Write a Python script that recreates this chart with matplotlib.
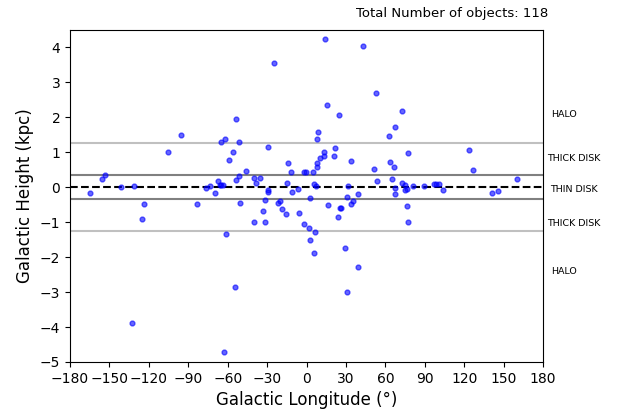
import numpy as np
import matplotlib
matplotlib.use('Agg')
import matplotlib.pyplot as plt

# Galactic longitude (deg) and height above the plane (kpc) for each object
lon = np.array([
    -165.0, -155.9, -153.5, -141.4, -131.7, -105.8, -95.6, -76.8, -73.3, -69.7,
    -67.1, -65.9, -63.8, -64.8, -61.8, -59.0, -55.9, -53.9, -51.1, -53.9,
    -51.6, -46.1, -40.2, -38.4, -35.1, -25.0, -29.3, -29.5, -29.5, -14.5,
    -15.0, -11.9, -10.9, -6.6, -1.6, 2.7, 14.2, 43.2, 52.9, 15.2,
    24.7, 72.5, 67.6, 62.8, 8.6, 8.1, 21.6, 13.5, 13.2, 10.4,
    7.6, 7.9, 21.1, 33.5, 77.3, 123.8, 126.9, 160.1, 51.5, 63.5,
    66.3, 65.3, 53.6, 4.6, 5.6, 6.8, 31.7, 72.5, 75.0, 75.2,
    76.2, 80.6, 89.7, 96.9, 98.8, 100.7, 103.7, 67.6, 67.6, 140.8,
    145.9, 30.7, 39.4, 35.5, 33.5, -5.6, -1.6, 1.8, 6.5, 2.7,
    5.6, 16.5, 24.1, 25.2, 26.2, 29.5, 39.4, 30.5, 76.2, 77.1,
    -123.9, -125.3, -133.2, -83.4, -61.1, -54.2, -62.8, -50.9, -40.4, -33.4,
    -31.6, -31.3, -21.9, -20.1, -18.6, -15.8, -0.8, -65.4,
])
height = np.array([
    -0.18, 0.23, 0.35, 0.01, 0.04, 1.02, 1.49, -0.03, 0.03, -0.16,
    0.17, 0.06, 0.06, 1.28, 1.37, 0.77, 1.00, 1.94, 1.28, 0.21,
    0.31, 0.45, 0.26, 0.11, 0.25, 3.56, 1.15, -0.07, -0.15, 0.70,
    0.13, 0.44, -0.14, -0.04, 0.44, -0.32, 4.23, 4.03, 2.70, 2.35,
    2.06, 2.18, 1.71, 1.47, 1.57, 1.39, 1.13, 1.01, 0.89, 0.84,
    0.68, 0.58, 0.90, 0.76, 0.98, 1.05, 0.50, 0.23, 0.51, 0.72,
    0.58, 0.24, 0.19, 0.44, 0.08, 0.03, 0.03, 0.11, 0.07, -0.07,
    -0.04, 0.04, 0.03, 0.08, 0.08, 0.08, -0.08, -0.03, -0.19, -0.18,
    -0.11, -0.28, -0.19, -0.40, -0.48, -0.73, -1.06, -1.17, -1.29, -1.52,
    -1.89, -0.52, -0.84, -0.59, -0.59, -1.74, -2.27, -3.01, -0.55, -1.00,
    -0.49, -0.90, -3.89, -0.47, -1.33, -2.85, -4.71, -0.46, -1.00, -0.67,
    -0.37, -1.00, -0.45, -0.39, -0.62, -0.78, 0.42, 0.05,
])

# component boundaries (kpc) and where their names go
thin_edge = 0.35
thick_edge = 1.25
region_names = ['HALO', 'THICK DISK', 'THIN DISK', 'THICK DISK', 'HALO']
region_y = [2.07, 0.82, -0.07, -1.03, -2.4]
region_x = [186, 183, 185.5, 183, 186]

fig = plt.figure(figsize=(6.2, 4.09), dpi=100)
ax = fig.add_axes([0.113, 0.115, 0.763, 0.812])

ax.scatter(lon, height, s=12, color='blue', alpha=0.6, zorder=3)

for h in (thick_edge, -thick_edge):
    ax.axhline(h, color='#c0c0c0', lw=1.5, zorder=1)
for h in (thin_edge, -thin_edge):
    ax.axhline(h, color='gray', lw=1.5, zorder=1)
ax.axhline(0, color='black', ls='--', lw=1.5, zorder=2)

for name, x, y in zip(region_names, region_x, region_y):
    ax.text(x, y, name, fontsize=6.8, ha='left', va='center', clip_on=False)

ax.set_xlim(-180, 180)
ax.set_ylim(-5, 4.5)
ax.set_xticks(np.arange(-180, 181, 30))
ax.set_yticks(np.arange(-5, 5, 1))
ax.tick_params(labelsize=10)
ax.set_xlabel('Galactic Longitude (°)', fontsize=12)
ax.set_ylabel('Galactic Height (kpc)', fontsize=12)

fig.text(548 / 620, 1 - 14 / 409, 'Total Number of objects: %d' % len(lon),
         ha='right', va='center', fontsize=9.5)

fig.savefig('out.png', dpi=100)
